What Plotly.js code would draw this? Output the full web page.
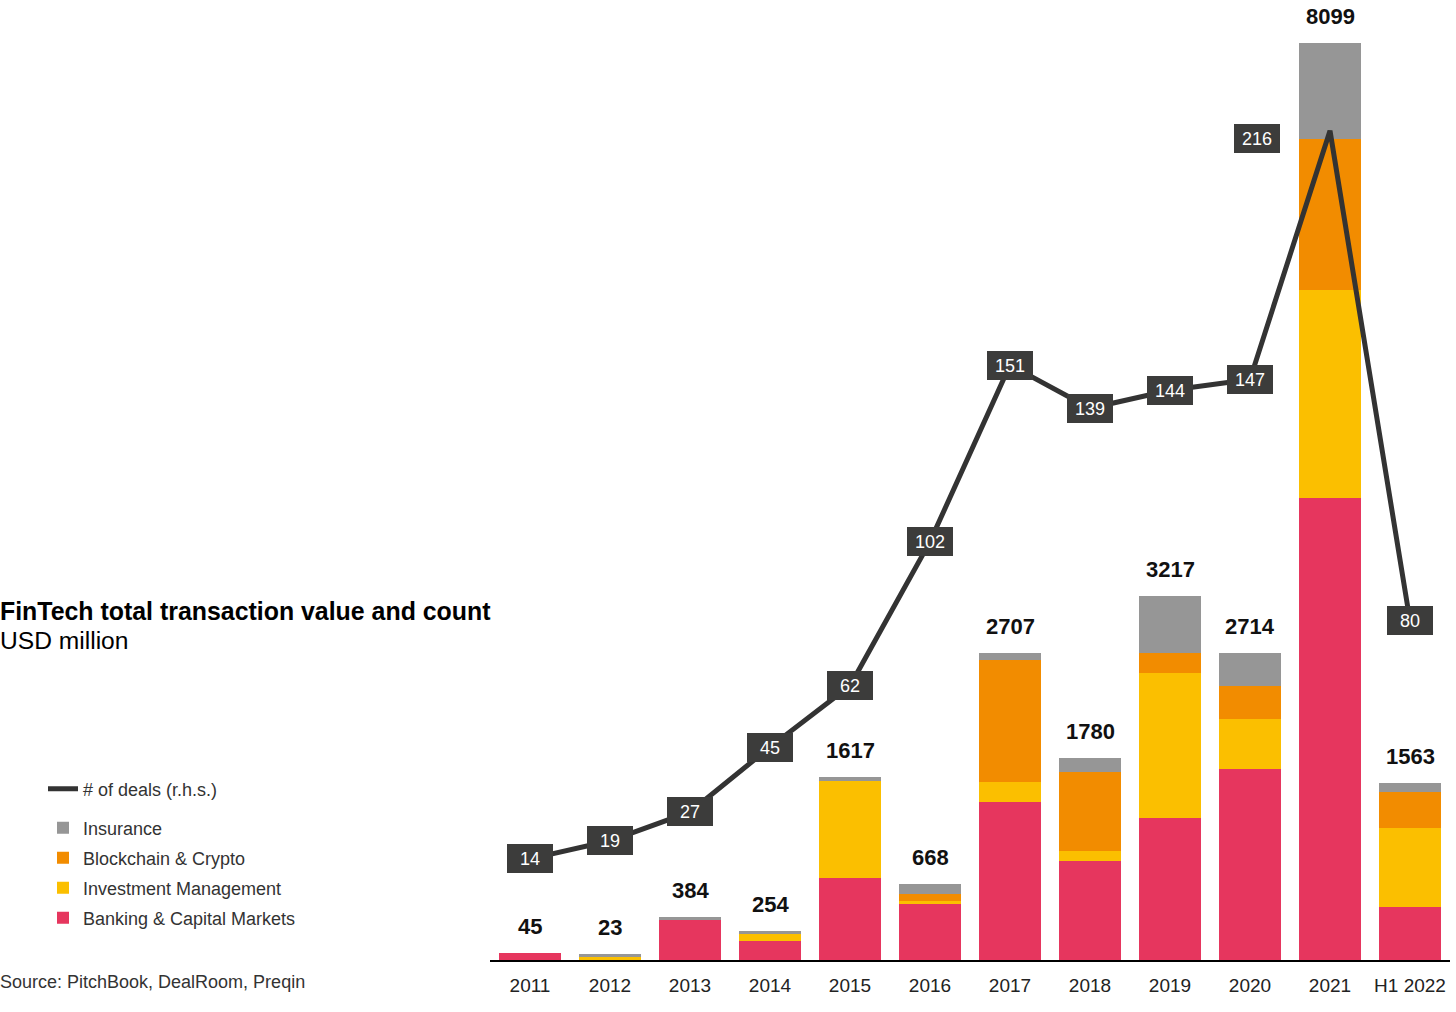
<!DOCTYPE html>
<html>
<head>
<meta charset="utf-8">
<script src="https://cdn.plot.ly/plotly-3.0.1.min.js"></script>
<style>
  html, body { margin: 0; padding: 0; background: #ffffff; }
  #chart { width: 1456px; height: 1012px; }
</style>
</head>
<body>
<div id="chart"></div>
<script>
// ---- Data ----
const categories = ['2011', '2012', '2013', '2014', '2015', '2016', '2017', '2018', '2019', '2020', '2021', 'H1 2022'];
const banking    = [60,   0,  350, 170,  725, 495, 1398, 874, 1251, 1687, 4078, 465];
const investment = [0,   25,    0,  62,  857,  26,  171,  86, 1283,  439, 1840, 698];
const blockchain = [0,    0,    0,   0,    0,  62, 1083, 700,  174,  291, 1336, 321];
const insurance  = [0,   30,   34,  22,   35,  85,   55, 120,  509,  297,  845,  79];
const totals     = [45,  23,  384, 254, 1617, 668, 2707, 1780, 3217, 2714, 8099, 1563];
const deals      = [14,  19,   27,  45,   62, 102,  151, 139,  144,  147,  216,  80];

const seriesNames = {
  banking: 'Banking & Capital Markets',
  investment: 'Investment Management',
  blockchain: 'Blockchain & Crypto',
  insurance: 'Insurance',
  deals: '# of deals (r.h.s.)'
};

// ---- Styling ----
const FONT = 'Liberation Sans, Arial, Helvetica, sans-serif';
const colors = {
  banking: '#e6365e',
  investment: '#fbbf00',
  blockchain: '#f28c00',
  insurance: '#969696',
  line: '#333333',
  box: '#3c3c3b'
};

// Plot area geometry (pixels)
const W = 1456, H = 1012;
const M = { l: 490, r: 6, t: 10, b: 52 };
const plotW = W - M.l - M.r;
const plotH = H - M.t - M.b;
const px2paperX = px => (px - M.l) / plotW;
const px2paperY = py => (H - M.b - py) / plotH;

const stackTop = categories.map((c, i) => banking[i] + investment[i] + blockchain[i] + insurance[i]);

function barTrace(key, values, legendId) {
  return {
    type: 'bar',
    name: seriesNames[key],
    x: categories,
    y: values,
    marker: { color: colors[key], line: { width: 0 } },
    legend: legendId,
    hoverinfo: 'x+y+name'
  };
}

const traces = [
  barTrace('banking', banking, 'legend5'),
  barTrace('investment', investment, 'legend4'),
  barTrace('blockchain', blockchain, 'legend3'),
  barTrace('insurance', insurance, 'legend2'),
  {
    type: 'scatter',
    mode: 'lines',
    name: seriesNames.deals,
    x: categories,
    y: deals,
    yaxis: 'y2',
    line: { color: colors.line, width: 5 },
    legend: 'legend',
    hoverinfo: 'x+y'
  }
];

// label offsets for deal boxes (layout tweak, pixels)
const dealLabelShift = { '2021': { x: -73, y: -8 } };

const annotations = [];
// totals above bars (x given as category index to avoid numeric-looking names)
categories.forEach((c, i) => {
  annotations.push({
    xref: 'x', yref: 'y', x: i, y: stackTop[i],
    text: '<b>' + totals[i] + '</b>',
    showarrow: false, yanchor: 'bottom', yshift: 12,
    font: { family: FONT, size: 22, color: '#111111' }
  });
});
// deal count boxes on the line
categories.forEach((c, i) => {
  const s = dealLabelShift[c] || { x: 0, y: 0 };
  annotations.push({
    xref: 'x', yref: 'y2', x: i, y: deals[i],
    text: String(deals[i]),
    showarrow: false, xanchor: 'center', yanchor: 'middle',
    xshift: s.x, yshift: s.y,
    width: 42, height: 25, borderpad: 2,
    bgcolor: colors.box, bordercolor: colors.box, borderwidth: 0,
    font: { family: FONT, size: 18, color: '#ffffff' }
  });
});
// title, subtitle, source
annotations.push({
  xref: 'paper', yref: 'paper', x: px2paperX(-2), y: px2paperY(611),
  xanchor: 'left', yanchor: 'middle', showarrow: false,
  text: '<b>FinTech total transaction value and count</b>',
  font: { family: FONT, size: 24.9, color: '#000000' }
});
annotations.push({
  xref: 'paper', yref: 'paper', x: px2paperX(-2), y: px2paperY(640),
  xanchor: 'left', yanchor: 'middle', showarrow: false,
  text: 'USD million',
  font: { family: FONT, size: 24.6, color: '#000000' }
});
annotations.push({
  xref: 'paper', yref: 'paper', x: px2paperX(-2), y: px2paperY(982),
  xanchor: 'left', yanchor: 'middle', showarrow: false,
  text: 'Source: PitchBook, DealRoom, Preqin',
  font: { family: FONT, size: 18, color: '#333333' }
});

function legendAt(py) {
  return {
    x: px2paperX(43), y: px2paperY(py),
    xanchor: 'left', yanchor: 'middle',
    bgcolor: 'rgba(0,0,0,0)', borderwidth: 0,
    font: { family: FONT, size: 18, color: '#333333' },
    itemclick: false, itemdoubleclick: false
  };
}

const layout = {
  width: W, height: H,
  margin: M,
  paper_bgcolor: '#ffffff',
  plot_bgcolor: '#ffffff',
  barmode: 'stack',
  bargap: 0.23,
  showlegend: true,
  legend: legendAt(789),
  legend2: legendAt(828),
  legend3: legendAt(858),
  legend4: legendAt(888),
  legend5: legendAt(918),
  xaxis: {
    type: 'category',
    categoryorder: 'array', categoryarray: categories,
    range: [-0.5, categories.length - 0.5],
    showgrid: false, zeroline: false,
    showline: true, linecolor: '#000000', linewidth: 1.5,
    ticks: '', ticklabelstandoff: 8,
    tickfont: { family: FONT, size: 19, color: '#222222' },
    fixedrange: true
  },
  yaxis: {
    range: [0, 8390], visible: false, showgrid: false, zeroline: false, fixedrange: true
  },
  yaxis2: {
    range: [-14.07, 249.5], overlaying: 'y', side: 'right', visible: false,
    showgrid: false, zeroline: false, fixedrange: true
  },
  annotations: annotations,
  font: { family: FONT }
};

Plotly.newPlot('chart', traces, layout, { displayModeBar: false, staticPlot: true });
</script>
</body>
</html>
